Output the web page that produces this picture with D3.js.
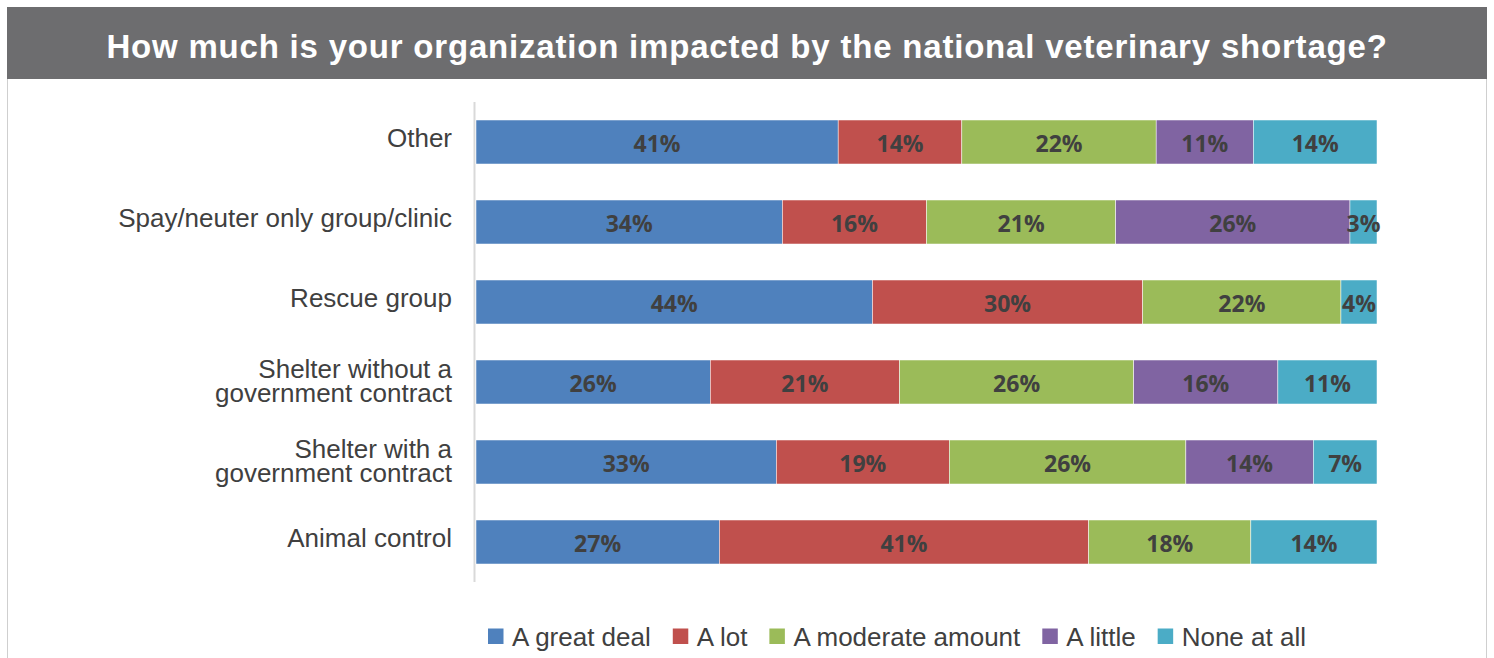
<!DOCTYPE html>
<html>
<head>
<meta charset="utf-8">
<script src="https://cdn.jsdelivr.net/npm/d3@7"></script>
<style>
  body { margin: 0; background: #fff; }
</style>
</head>
<body>
<div id="chart"></div>
<script>
// categories, top to bottom
var categories = ["Other", "Spay/neuter only group/clinic", "Rescue group",
    "Shelter without a\ngovernment contract", "Shelter with a\ngovernment contract", "Animal control"];
var series = ["A great deal", "A lot", "A moderate amount", "A little", "None at all"];
var colors = ["#4f81bd", "#c0504d", "#9bbb59", "#8064a2", "#4bacc6"];

// percent per category, in series order
var greatDeal = [41, 34, 44, 26, 33, 27];
var aLot      = [14, 16, 30, 21, 19, 41];
var moderate  = [22, 21, 22, 26, 26, 18];
var aLittle   = [11, 26, 0, 16, 14, 0];
var noneAtAll = [14, 3, 4, 11, 7, 14];

var title = "How much is your organization impacted by the national veterinary shortage?";

var W = 1494, H = 658;
var svg = d3.select("#chart").append("svg")
    .attr("width", W)
    .attr("height", H);

// panel + title bar
svg.append("rect")
    .attr("x", 7.5).attr("y", 7.5)
    .attr("width", 1479).attr("height", 700)
    .attr("fill", "#fff").attr("stroke", "#cfcfcf");
svg.append("rect")
    .attr("x", 7).attr("y", 7)
    .attr("width", 1480).attr("height", 72)
    .attr("fill", "#6d6d6f");
svg.append("text")
    .attr("x", 747).attr("y", 58)
    .attr("text-anchor", "middle")
    .style("font-family", "'Liberation Sans', Arial, sans-serif")
    .style("font-weight", "bold")
    .style("font-size", "33px")
    .style("letter-spacing", "0.8px")
    .attr("fill", "#fff")
    .text(title);

// build rows, normalised to 100%
var rows = categories.map(function(c, i) {
    var vals = [greatDeal[i], aLot[i], moderate[i], aLittle[i], noneAtAll[i]];
    var total = d3.sum(vals);
    var x0 = 0;
    return {
        cat: c,
        segs: vals.map(function(v, j) {
            var s = {k: j, v: v, x0: x0, x1: x0 + v / total};
            x0 += v / total;
            return s;
        })
    };
});

var x = d3.scaleLinear().domain([0, 1]).range([476, 1377]);
var y = d3.scaleBand()
    .domain(categories)
    .range([102, 582])
    .paddingInner(0.45)
    .paddingOuter(0.225);

// axis line
svg.append("line")
    .attr("x1", 474.5).attr("x2", 474.5)
    .attr("y1", 102).attr("y2", 582)
    .attr("stroke", "#d9d9d9").attr("stroke-width", 2);

var row = svg.selectAll("g.row")
    .data(rows)
    .enter()
    .append("g")
    .attr("class", "row")
    .attr("transform", function(d) { return "translate(0," + y(d.cat) + ")"; });

row.selectAll("rect")
    .data(function(d) { return d.segs.filter(function(s) { return s.v > 0; }); })
    .enter()
    .append("rect")
    .attr("x", function(s) { return x(s.x0); })
    .attr("width", function(s) { return x(s.x1) - x(s.x0); })
    .attr("height", y.bandwidth())
    .attr("fill", function(s) { return colors[s.k]; })
    .attr("stroke", "#fff")
    .attr("stroke-width", 0.5);

row.selectAll("text.val")
    .data(function(d) { return d.segs.filter(function(s) { return s.v > 0; }); })
    .enter()
    .append("text")
    .attr("class", "val")
    .attr("x", function(s) { return (x(s.x0) + x(s.x1)) / 2; })
    .attr("y", y.bandwidth() / 2 + 10)
    .attr("text-anchor", "middle")
    .style("font-family", "'Open Sans', sans-serif")
    .style("font-weight", "bold")
    .style("font-size", "23px")
    .attr("fill", "#404040")
    .text(function(s) { return s.v + "%"; });

// category labels
row.each(function(d) {
    var lines = d.cat.split("\n");
    var t = d3.select(this).append("text")
        .attr("text-anchor", "end")
        .style("font-family", "'Liberation Sans', Arial, sans-serif")
        .style("font-size", "26px")
        .attr("fill", "#404040");
    var start = y.bandwidth() / 2 + 5 - (lines.length - 1) * 9;
    lines.forEach(function(l, i) {
        t.append("tspan")
            .attr("x", 452)
            .attr("y", start + i * 24)
            .text(l);
    });
});

// legend
var legend = svg.append("g");
var lx = 488;
series.forEach(function(s, i) {
    legend.append("rect")
        .attr("x", lx).attr("y", 628.5)
        .attr("width", 15.5).attr("height", 15.5)
        .attr("fill", colors[i]);
    var t = legend.append("text")
        .attr("x", lx + 24).attr("y", 646)
        .style("font-family", "'Liberation Sans', Arial, sans-serif")
        .style("font-size", "26px")
        .attr("fill", "#404040")
        .text(s);
    lx += 24 + t.node().getComputedTextLength() + 22;
});
</script>
</body>
</html>
